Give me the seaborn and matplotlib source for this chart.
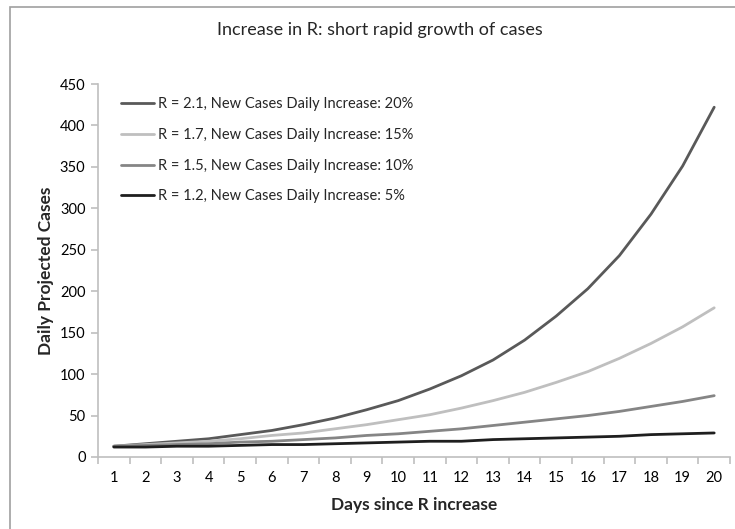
import numpy as np
import pandas as pd
import matplotlib
matplotlib.use("Agg")
import matplotlib.pyplot as plt
from matplotlib.patches import Rectangle
import seaborn as sns

# Data
days = list(range(1, 21))
cases_20 = [13, 16, 19, 22, 27, 32, 39, 47, 57, 68, 82, 98, 117, 141, 170, 203, 243, 293, 351, 422]
cases_15 = [13, 15, 17, 19, 22, 26, 29, 34, 39, 45, 51, 59, 68, 78, 90, 103, 119, 137, 157, 180]
cases_10 = [13, 14, 15, 16, 18, 19, 21, 23, 26, 28, 31, 34, 38, 42, 46, 50, 55, 61, 67, 74]
cases_5 = [12, 12, 13, 13, 14, 15, 15, 16, 17, 18, 19, 19, 21, 22, 23, 24, 25, 27, 28, 29]

labels = [
    "R = 2.1, New Cases Daily Increase: 20%",
    "R = 1.7, New Cases Daily Increase: 15%",
    "R = 1.5, New Cases Daily Increase: 10%",
    "R = 1.2, New Cases Daily Increase: 5%",
]
colors = ["#595959", "#bfbfbf", "#858585", "#1e1e1e"]

df = pd.concat([
    pd.DataFrame({"day": days, "cases": vals, "series": lab})
    for vals, lab in zip([cases_20, cases_15, cases_10, cases_5], labels)
])

sns.set_style("white")
plt.rcParams["font.family"] = ["Lato", "DejaVu Sans"]

fig = plt.figure(figsize=(7.35, 5.29), dpi=100)
ax = fig.add_axes([98 / 735, 1 - 457 / 529, 632 / 735, 373 / 529])

sns.lineplot(data=df, x="day", y="cases", hue="series", hue_order=labels,
             palette=colors, linewidth=2.0, ax=ax)

ax.set_xlim(0.5, 20.5)
ax.set_ylim(0, 450)
ax.set_yticks(range(0, 451, 50))
ax.set_xticks(days)
ax.set_xticks(np.arange(0.5, 21, 1), minor=True)
ax.tick_params(bottom=True, left=True)
ax.tick_params(axis="x", which="major", length=0, pad=10, labelsize=10.5, colors="black")
ax.tick_params(axis="x", which="minor", bottom=True, length=5, width=1.2,
               direction="out", color="#bfbfbf")
ax.tick_params(axis="y", length=5, width=1.2, direction="out", pad=4,
               labelsize=10.5, labelcolor="black", color="#bfbfbf")

for side in ["top", "right"]:
    ax.spines[side].set_visible(False)
for side in ["left", "bottom"]:
    ax.spines[side].set_color("#bfbfbf")
    ax.spines[side].set_linewidth(1.2)

ax.set_xlabel("Days since R increase", fontsize=12.5, fontweight="bold", labelpad=9)
ax.set_ylabel("Daily Projected Cases", fontsize=12.5, fontweight="bold", labelpad=4)

leg = ax.legend(loc="upper left", bbox_to_anchor=(0.015, 1.0), frameon=False,
                fontsize=10.5, handlelength=2.3, handletextpad=0.25, labelspacing=1.15)
for line in leg.get_lines():
    line.set_linewidth(2.0)

fig.text(380 / 735, 1 - 30 / 529, "Increase in R: short rapid growth of cases",
         ha="center", va="center", fontsize=13)

# chart border like the spreadsheet frame
fig.patches.append(Rectangle((10 / 735, -0.1), 2, 1 - 7 / 529 + 0.1,
                             transform=fig.transFigure, fill=False,
                             edgecolor="#a0a0a0", linewidth=1.2))

fig.savefig("out.png", dpi=100)
